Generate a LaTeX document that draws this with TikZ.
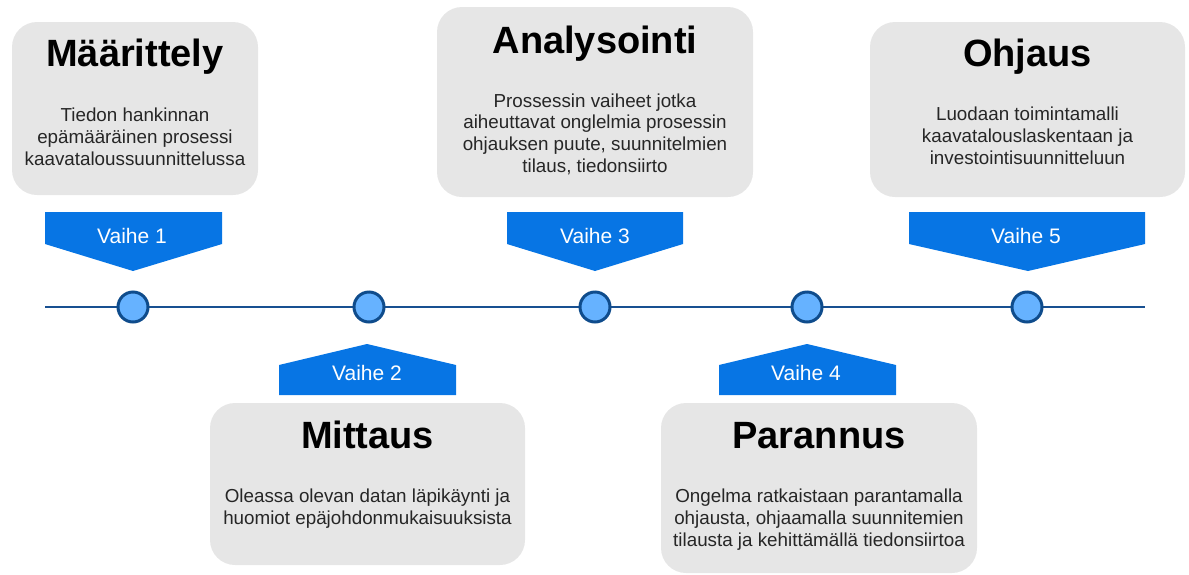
\documentclass[tikz,border=0pt]{standalone}
\usepackage{fontspec}
\setmainfont{Liberation Sans}
\definecolor{bannerblue}{RGB}{7,117,228}
\definecolor{panelgray}{RGB}{230,230,230}
\definecolor{axisblue}{RGB}{24,80,145}
\definecolor{dotfill}{RGB}{102,178,255}
\definecolor{dotline}{RGB}{15,76,140}
\definecolor{bodytext}{RGB}{38,38,38}
\begin{document}
\begin{tikzpicture}[x=1pt,y=-1pt,
  panel/.style={fill=panelgray, rounded corners=25pt, inner sep=0pt, outer sep=0pt},
  heading/.style={font=\bfseries\fontsize{38}{44}\selectfont, text=black, inner sep=0pt, anchor=base},
  % multi-line descriptions are anchored at the baseline of their last line
  bodycopy/.style={font=\fontsize{18.8}{21.6}\selectfont, text=bodytext, align=center, inner sep=0pt, anchor=base},
  banner/.style={fill=bannerblue},
  bannertext/.style={font=\fontsize{21}{24}\selectfont, text=white, inner sep=0pt, anchor=base},
  axis/.style={draw=axisblue, line width=2.5pt},
  dot/.style={circle, minimum size=30pt, inner sep=0pt, fill=dotfill, draw=dotline, line width=3pt}]
\useasboundingbox (0,0) rectangle (1189,574);

% panels
\node[panel, minimum width=246pt, minimum height=173pt] (p1) at (135,108.5) {};
\node[panel, minimum width=316pt, minimum height=190pt] (p3) at (595,102) {};
\node[panel, minimum width=315pt, minimum height=175pt] (p5) at (1027.5,109.5) {};
\node[panel, minimum width=315pt, minimum height=162pt] (p2) at (367.5,484) {};
\node[panel, minimum width=316pt, minimum height=170pt] (p4) at (819,488) {};

% headings
\node[heading] (t1) at (135,66) {Määrittely};
\node[heading] (t3) at (595,53) {Analysointi};
\node[heading] (t5) at (1027.5,66) {Ohjaus};
\node[heading] (t2) at (367.5,448) {Mittaus};
\node[heading] (t4) at (819,448) {Parannus};

% descriptions
\node[bodycopy] (b1) at (135,165) {Tiedon hankinnan\\epämääräinen prosessi\\kaavataloussuunnittelussa};
\node[bodycopy] (b3) at (595,172) {Prossessin vaiheet jotka\\aiheuttavat onglelmia prosessin\\ohjauksen puute, suunnitelmien\\tilaus, tiedonsiirto};
\node[bodycopy] (b5) at (1027.5,164) {Luodaan toimintamalli\\kaavatalouslaskentaan ja\\investointisuunnitteluun};
\node[bodycopy] (b2) at (367.5,524) {Oleassa olevan datan läpikäynti ja\\huomiot epäjohdonmukaisuuksista};
\node[bodycopy] (b4) at (819,546) {Ongelma ratkaistaan parantamalla\\ohjausta, ohjaamalla suunnitemien\\tilausta ja kehittämällä tiedonsiirtoa};

% phase banners
\path[banner] (45,212) -- (222,212) -- (222,244) -- (133,271) -- (45,244) -- cycle;
\path[banner] (507,212) -- (683,212) -- (683,244) -- (595,271) -- (507,244) -- cycle;
\path[banner] (909,212) -- (1145,212) -- (1145,244) -- (1028,271) -- (909,244) -- cycle;
\path[banner] (279,395) -- (456,395) -- (456,365) -- (367,344) -- (279,365) -- cycle;
\path[banner] (719,395) -- (896,395) -- (896,365) -- (807,344) -- (719,365) -- cycle;

\node[bannertext] (v1) at (132,243) {Vaihe 1};
\node[bannertext] (v3) at (595,243) {Vaihe 3};
\node[bannertext] (v5) at (1026,243) {Vaihe 5};
\node[bannertext] (v2) at (367,380) {Vaihe 2};
\node[bannertext] (v4) at (806,380) {Vaihe 4};

% timeline
\coordinate (axisL) at (45,307);
\coordinate (axisR) at (1145,307);
\draw[axis] (axisL) -- (axisR);
\node[dot] (d1) at (133,307) {};
\node[dot] (d2) at (369,307) {};
\node[dot] (d3) at (595,307) {};
\node[dot] (d4) at (807,307) {};
\node[dot] (d5) at (1027,307) {};
\end{tikzpicture}
\end{document}
